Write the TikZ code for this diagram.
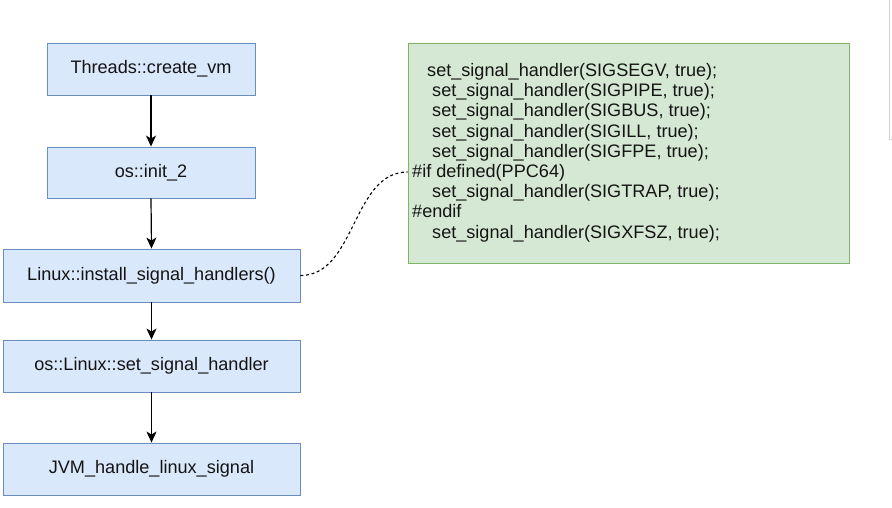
\documentclass[tikz,border=0pt]{standalone}
\usepackage{fontspec}
\setmainfont{Liberation Sans}
\usetikzlibrary{arrows.meta}
\definecolor{bluefill}{HTML}{DAE8FC}
\definecolor{blueline}{HTML}{6C8EBF}
\definecolor{greenfill}{HTML}{D5E8D4}
\definecolor{greenline}{HTML}{82B366}
\definecolor{ink}{HTML}{141414}
\definecolor{edgegray}{HTML}{D2D2D2}
\tikzset{
  callbox/.style={draw=blueline, fill=bluefill, line width=0.9pt, rectangle,
    inner sep=0pt, text=ink, font=\fontsize{18.1}{20}\selectfont},
  codebox/.style={draw=greenline, fill=greenfill, line width=0.9pt, rectangle, inner sep=0pt},
  codeline/.style={anchor=base west, inner sep=0pt, text=ink, font=\fontsize{18.1}{20}\selectfont},
  flow/.style={draw=black, line width=1.2pt, -{Stealth[length=11pt,width=10pt,inset=3pt]}},
  link/.style={draw=black, line width=1.1pt, dash pattern=on 3pt off 2.6pt}
}
\begin{document}
\begin{tikzpicture}[x=1pt,y=-1pt]
  \useasboundingbox (0,0) rectangle (892,507);
  \fill[white] (0,0) rectangle (892,507);

  % call chain
  \node[callbox, minimum width=208pt, minimum height=52pt] (create) at (151,69) {Threads::create\_vm};
  \node[callbox, minimum width=208pt, minimum height=51pt] (init) at (151,172.5) {os::init\_2};
  \node[callbox, minimum width=297pt, minimum height=53pt] (install) at (151.5,275.5) {Linux::install\_signal\_handlers()};
  \node[callbox, minimum width=297pt, minimum height=52pt] (setsig) at (151.5,366) {os::Linux::set\_signal\_handler};
  \node[callbox, minimum width=297pt, minimum height=52pt] (jvm) at (151.5,469) {JVM\_handle\_linux\_signal};

  \draw[flow] (create.south) -- (init.north);
  \draw[flow] (init.south) -- (install.north);
  \draw[flow] (install.south) -- (setsig.north);
  \draw[flow] (setsig.south) -- (jvm.north);

  % code listing of install_signal_handlers
  \node[codebox, minimum width=441pt, minimum height=220pt] (code) at (628.5,153) {};
  \node[codeline] (l1) at (427,76.5) {set\_signal\_handler(SIGSEGV, true);};
  \node[codeline] (l2) at (432,96.7) {set\_signal\_handler(SIGPIPE, true);};
  \node[codeline] (l3) at (432,116.9) {set\_signal\_handler(SIGBUS, true);};
  \node[codeline] (l4) at (432,137.1) {set\_signal\_handler(SIGILL, true);};
  \node[codeline] (l5) at (432,157.3) {set\_signal\_handler(SIGFPE, true);};
  \node[codeline] (l6) at (412,177.5) {\#if defined(PPC64)};
  \node[codeline] (l7) at (432,197.7) {set\_signal\_handler(SIGTRAP, true);};
  \node[codeline] (l8) at (412,217.9) {\#endif};
  \node[codeline] (l9) at (432,238.1) {set\_signal\_handler(SIGXFSZ, true);};

  \coordinate (codein) at (code.west |- 0,172);
  \draw[link] (install.east) .. controls (356,275.5) and (352,172) .. (codein);

  % clipped panel border at the right edge
  \draw[edgegray, line width=0.8pt] (889,0) -- (889,139) -- (892,139);
\end{tikzpicture}
\end{document}
